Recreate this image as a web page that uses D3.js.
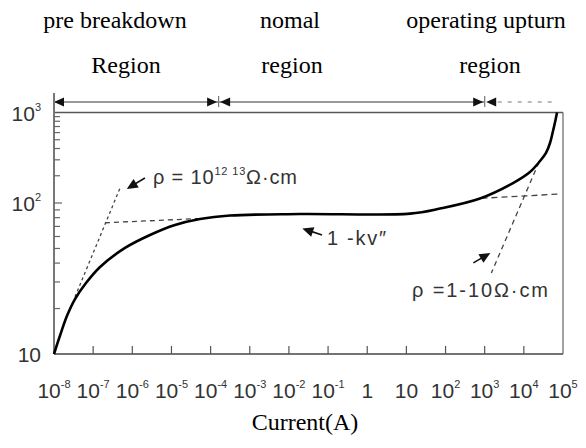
<!DOCTYPE html>
<html>
<head>
<meta charset="utf-8">
<script src="https://cdn.jsdelivr.net/npm/d3@7"></script>
<style>
body { margin: 0; background: #fff; }
svg { display: block; }
</style>
</head>
<body>
<svg id="chart" width="586" height="448"></svg>
<script>
// V-I curve of the varistor
const current = [1e-8, 1.42e-8, 2.15e-8, 3.44e-8, 6.56e-8, 1.5e-7, 6.51e-7, 2.83e-6, 1.23e-5, 5.36e-5, 3.13e-4, 0.0192, 12.4,
    72.1, 758, 5280, 14350, 25900, 36800, 46600, 55600, 64400, 70300];
const voltage = [10, 13.2, 17.9, 23.1, 29.5, 37.7, 50.4, 61.4, 71.5, 78.3, 82.6, 84.5, 85.1,
    91.9, 112.1, 166, 220, 291, 357, 460, 625, 826, 1000];

// dashed guide lines
const ohmicLowI = [3.44e-8, 4.85e-7];
const ohmicLowV = [23.9, 146];
const kneeI = [2e-7, 6e-5];
const kneeV = [74, 79];
const upturnI = [830, 85000];
const upturnV = [112.7, 125.8];
const ohmicHighI = [24500, 1480];
const ohmicHighV = [284, 34.4];

// axis ticks
const xTicks = [1e-8, 1e-7, 1e-6, 1e-5, 1e-4, 1e-3, 1e-2, 1e-1, 1, 10, 1e2, 1e3, 1e4, 1e5];
const xTickBase = ["10", "10", "10", "10", "10", "10", "10", "10", "1", "10", "10", "10", "10", "10"];
const xTickExp = ["-8", "-7", "-6", "-5", "-4", "-3", "-2", "-1", "", "", "2", "3", "4", "5"];
const yTicks = [10, 100, 1000];
const yTickBase = ["10", "10", "10"];
const yTickExp = ["", "2", "3"];

// regions along the top
const regionLine1 = ["pre breakdown", "nomal", "operating upturn"];
const regionLine2 = ["Region", "region", "region"];
const regionBounds = [1e-8, 1.6e-4, 1e3];
const regionDashEnd = 5.9e4;

// annotation arrows: tail -> head, in data units
const noteTailI = [2.1e-6, 0.07, 513];
const noteTailV = [189, 61.4, 40.1];
const noteHeadI = [7.2e-7, 0.022, 1400];
const noteHeadV = [143, 67.9, 46.7];

const svg = d3.select("#chart");
const x = d3.scaleLog().domain([1e-8, 1e5]).range([54, 563]);
const y = d3.scaleLog().domain([10, 100, 1000]).range([354, 203, 112.5]);

const ink = "#333";
const serif = "'Liberation Serif', 'Times New Roman', serif";
const sans = "'Liberation Sans', Arial, sans-serif";

function arrowHead(g, x1, y1, x2, y2, len, half) {
    const a = Math.atan2(y2 - y1, x2 - x1);
    const c = Math.cos(a), s = Math.sin(a);
    const pts = [
        [x2, y2],
        [x2 - len * c - half * s, y2 - len * s + half * c],
        [x2 - len * c + half * s, y2 - len * s - half * c]
    ];
    g.append("path").attr("d", "M" + pts.join("L") + "Z").attr("fill", "#111");
}

// header text
const headerX1 = [115, 290, 486];
const headerX2 = [126, 292, 490];
const header = svg.append("g")
    .attr("font-family", serif)
    .attr("font-size", 24)
    .attr("text-anchor", "middle")
    .attr("fill", "#000");
header.selectAll("text.l1")
    .data(regionLine1)
    .enter().append("text")
    .attr("class", "l1")
    .attr("x", (d, i) => headerX1[i])
    .attr("y", 28)
    .text(d => d);
header.selectAll("text.l2")
    .data(regionLine2)
    .enter().append("text")
    .attr("class", "l2")
    .attr("x", (d, i) => headerX2[i])
    .attr("y", 73)
    .text(d => d);

// region arrows
const topY = 102;
const topRow = svg.append("g");
topRow.append("line")
    .attr("x1", x(regionBounds[0])).attr("x2", x(regionBounds[2]))
    .attr("y1", topY).attr("y2", topY)
    .attr("stroke", "#777").attr("stroke-width", 1.3);
topRow.append("line")
    .attr("x1", x(regionBounds[2]) + 13).attr("x2", x(regionDashEnd))
    .attr("y1", topY).attr("y2", topY)
    .attr("stroke", "#777").attr("stroke-width", 1.2)
    .attr("stroke-dasharray", "4,6");
arrowHead(topRow, x(regionBounds[0]) + 10, topY, x(regionBounds[0]), topY, 10, 4.5);
regionBounds.slice(1).forEach(b => {
    const bx = x(b);
    arrowHead(topRow, bx - 12, topY, bx - 1.5, topY, 10, 4.5);
    arrowHead(topRow, bx + 12, topY, bx + 1.5, topY, 10, 4.5);
    topRow.append("line")
        .attr("x1", bx).attr("x2", bx)
        .attr("y1", topY - 6).attr("y2", topY + 5)
        .attr("stroke", "#777").attr("stroke-width", 1.2);
});

// frame
const frame = svg.append("g").attr("fill", "none");
frame.append("line")
    .attr("x1", x(1e-8)).attr("x2", x(1e5))
    .attr("y1", y(1000)).attr("y2", y(1000))
    .attr("stroke", "#555").attr("stroke-width", 1.5);
frame.append("line")
    .attr("x1", x(1e5)).attr("x2", x(1e5))
    .attr("y1", y(1000)).attr("y2", y(10))
    .attr("stroke", "#666").attr("stroke-width", 1.2);
frame.append("line")
    .attr("x1", x(1e-8)).attr("x2", x(1e5))
    .attr("y1", y(10)).attr("y2", y(10))
    .attr("stroke", "#444").attr("stroke-width", 1.6);
frame.append("line")
    .attr("x1", x(1e-8)).attr("x2", x(1e-8))
    .attr("y1", topY - 9).attr("y2", y(10))
    .attr("stroke", "#777").attr("stroke-width", 2);

// ticks
svg.append("g").selectAll("line")
    .data(xTicks.slice(1, -1))
    .enter().append("line")
    .attr("x1", d => x(d)).attr("x2", d => x(d))
    .attr("y1", y(10)).attr("y2", y(10) - 8)
    .attr("stroke", "#555").attr("stroke-width", 1.2);
svg.append("g").selectAll("line")
    .data(y.ticks().filter(d => d > 10 && d < 1000))
    .enter().append("line")
    .attr("x1", x(1e-8)).attr("x2", d => x(1e-8) + (d === 100 ? 8 : 6))
    .attr("y1", d => y(d)).attr("y2", d => y(d))
    .attr("stroke", "#666").attr("stroke-width", 1.2);

// tick labels
const xLab = svg.append("g")
    .attr("font-family", sans).attr("font-size", 21)
    .attr("fill", ink).attr("text-anchor", "middle");
xTicks.forEach((t, i) => {
    const tx = xLab.append("text").attr("x", x(t)).attr("y", 398);
    tx.append("tspan").text(xTickBase[i]);
    if (xTickExp[i]) {
        tx.append("tspan").attr("font-size", 11).attr("dy", -10).text(xTickExp[i]);
    }
});
const yLab = svg.append("g")
    .attr("font-family", sans).attr("font-size", 21)
    .attr("fill", ink).attr("text-anchor", "end");
yTicks.forEach((t, i) => {
    const ty = yLab.append("text").attr("x", 41).attr("y", y(t) + 8);
    ty.append("tspan").text(yTickBase[i]);
    if (yTickExp[i]) {
        ty.append("tspan").attr("font-size", 11).attr("dy", -10).text(yTickExp[i]);
    }
});

svg.append("text")
    .attr("x", 305).attr("y", 430)
    .attr("font-family", serif).attr("font-size", 24)
    .attr("text-anchor", "middle").attr("fill", "#000")
    .text("Current(A)");

// dashed guides
const guide = d3.line().x(d => x(d[0])).y(d => y(d[1]));
const guides = [
    [d3.zip(ohmicLowI, ohmicLowV), "3,3"],
    [d3.zip(kneeI, kneeV), "5,4"],
    [d3.zip(upturnI, upturnV), "6,4"],
    [d3.zip(ohmicHighI, ohmicHighV), "5,4"]
];
svg.append("g").selectAll("path")
    .data(guides)
    .enter().append("path")
    .attr("d", d => guide(d[0]))
    .attr("fill", "none")
    .attr("stroke", "#444")
    .attr("stroke-width", 1.3)
    .attr("stroke-dasharray", d => d[1]);

// main curve
const curve = d3.line()
    .x(d => x(d[0]))
    .y(d => y(d[1]))
    .curve(d3.curveCatmullRom.alpha(0.5));
svg.append("path")
    .datum(d3.zip(current, voltage))
    .attr("d", curve)
    .attr("fill", "none")
    .attr("stroke", "#000")
    .attr("stroke-width", 2.6);

// annotations
const notes = svg.append("g");
noteTailI.forEach((t, i) => {
    const x1 = x(t), y1 = y(noteTailV[i]);
    const x2 = x(noteHeadI[i]), y2 = y(noteHeadV[i]);
    notes.append("line")
        .attr("x1", x1).attr("y1", y1)
        .attr("x2", x2 + (x1 - x2) * 0.3).attr("y2", y2 + (y1 - y2) * 0.3)
        .attr("stroke", "#111").attr("stroke-width", 1.6);
    arrowHead(notes, x1, y1, x2, y2, 11, 5);
});

const noteText = svg.append("g")
    .attr("font-family", sans).attr("font-size", 20).attr("fill", ink);
const t1 = noteText.append("text")
    .attr("x", x(noteTailI[0]) + 8).attr("y", y(noteTailV[0]) + 6)
    .attr("textLength", 144).attr("lengthAdjust", "spacing");
t1.append("tspan").text("\u03c1 = 10");
t1.append("tspan").attr("font-size", 11).attr("dy", -9).text("12  13");
t1.append("tspan").attr("dy", 9).text("\u03a9\u00b7cm");
noteText.append("text")
    .attr("x", x(noteTailI[1]) + 5).attr("y", y(noteTailV[1]) + 10)
    .attr("textLength", 59).attr("lengthAdjust", "spacing")
    .text("1 -kv\u2033");
noteText.append("text")
    .attr("x", x(13.9)).attr("y", y(23.7))
    .attr("textLength", 136).attr("lengthAdjust", "spacing")
    .text("\u03c1 =1-10\u03a9\u00b7cm");
</script>
</body>
</html>
